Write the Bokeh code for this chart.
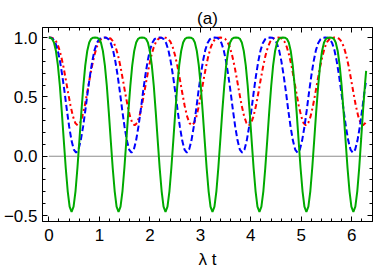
from bokeh.plotting import figure
from bokeh.models import LinearAxis, SingleIntervalTicker, Range1d, CustomJSTickFormatter
from bokeh.embed import file_html
from bokeh.resources import INLINE

# ---- data ----
green_t = [0.000, 0.024, 0.063, 0.101, 0.140, 0.179, 0.218, 0.256, 0.295, 0.334, 0.373, 0.411,
           0.450, 0.489, 0.528, 0.566, 0.605, 0.644, 0.683, 0.721, 0.760, 0.799, 0.838, 0.876,
           0.915, 0.954, 0.993, 1.031, 1.070, 1.109, 1.148, 1.186, 1.225, 1.264, 1.303, 1.341,
           1.380, 1.419, 1.458, 1.496, 1.535, 1.574, 1.613, 1.651, 1.690, 1.729, 1.768, 1.806,
           1.845, 1.884, 1.923, 1.961, 2.000, 2.039, 2.078, 2.116, 2.155, 2.194, 2.233, 2.271,
           2.310, 2.349, 2.388, 2.426, 2.465, 2.504, 2.543, 2.581, 2.620, 2.659, 2.698, 2.736,
           2.775, 2.814, 2.853, 2.891, 2.930, 2.969, 3.008, 3.046, 3.085, 3.124, 3.163, 3.201,
           3.240, 3.279, 3.318, 3.356, 3.395, 3.434, 3.473, 3.511, 3.550, 3.589, 3.628, 3.666,
           3.705, 3.744, 3.783, 3.821, 3.860, 3.899, 3.938, 3.976, 4.015, 4.054, 4.093, 4.131,
           4.170, 4.209, 4.248, 4.286, 4.325, 4.364, 4.403, 4.441, 4.480, 4.519, 4.558, 4.596,
           4.635, 4.674, 4.713, 4.751, 4.790, 4.829, 4.868, 4.906, 4.945, 4.984, 5.023, 5.061,
           5.100, 5.139, 5.178, 5.216, 5.255, 5.294, 5.333, 5.371, 5.410, 5.449, 5.488, 5.526,
           5.565, 5.604, 5.643, 5.681, 5.720, 5.759, 5.798, 5.836, 5.875, 5.914, 5.953, 5.991,
           6.030, 6.069, 6.108, 6.146, 6.185, 6.224, 6.263, 6.283]
green_y = [1.000, 0.999, 0.990, 0.958, 0.887, 0.766, 0.592, 0.376, 0.137, -0.097, -0.293, -0.424,
           -0.470, -0.424, -0.293, -0.097, 0.137, 0.376, 0.592, 0.766, 0.887, 0.958, 0.990, 0.999,
           1.000, 0.999, 0.990, 0.958, 0.887, 0.766, 0.592, 0.376, 0.137, -0.097, -0.293, -0.424,
           -0.470, -0.424, -0.293, -0.097, 0.137, 0.376, 0.592, 0.766, 0.887, 0.958, 0.990, 0.999,
           1.000, 0.999, 0.990, 0.958, 0.887, 0.766, 0.592, 0.376, 0.137, -0.097, -0.293, -0.424,
           -0.470, -0.424, -0.293, -0.097, 0.137, 0.376, 0.592, 0.766, 0.887, 0.958, 0.990, 0.999,
           1.000, 0.999, 0.990, 0.958, 0.887, 0.766, 0.592, 0.376, 0.137, -0.097, -0.293, -0.424,
           -0.470, -0.424, -0.293, -0.097, 0.137, 0.376, 0.592, 0.766, 0.887, 0.958, 0.990, 0.999,
           1.000, 0.999, 0.990, 0.958, 0.887, 0.766, 0.592, 0.376, 0.137, -0.097, -0.293, -0.424,
           -0.470, -0.424, -0.293, -0.097, 0.137, 0.376, 0.592, 0.766, 0.887, 0.958, 0.990, 0.999,
           1.000, 0.999, 0.990, 0.958, 0.887, 0.766, 0.592, 0.376, 0.137, -0.097, -0.293, -0.424,
           -0.470, -0.424, -0.293, -0.097, 0.137, 0.376, 0.592, 0.766, 0.887, 0.958, 0.990, 0.999,
           1.000, 0.999, 0.990, 0.958, 0.887, 0.766, 0.592, 0.376, 0.137, -0.097, -0.293, -0.424,
           -0.470, -0.424, -0.293, -0.097, 0.150, 0.400, 0.620, 0.720]

blue_t = [0.000, 0.038, 0.083, 0.129, 0.175, 0.220, 0.266, 0.312, 0.357, 0.403, 0.449, 0.494,
          0.540, 0.586, 0.631, 0.677, 0.723, 0.768, 0.814, 0.860, 0.905, 0.951, 0.997, 1.042,
          1.088, 1.134, 1.179, 1.225, 1.271, 1.316, 1.362, 1.408, 1.453, 1.499, 1.545, 1.590,
          1.636, 1.682, 1.727, 1.773, 1.819, 1.864, 1.910, 1.956, 2.001, 2.047, 2.093, 2.138,
          2.184, 2.230, 2.275, 2.321, 2.367, 2.412, 2.458, 2.504, 2.549, 2.595, 2.641, 2.686,
          2.732, 2.778, 2.823, 2.869, 2.915, 2.960, 3.006, 3.052, 3.097, 3.143, 3.189, 3.234,
          3.280, 3.326, 3.371, 3.417, 3.463, 3.508, 3.554, 3.600, 3.645, 3.691, 3.737, 3.782,
          3.828, 3.874, 3.919, 3.965, 4.011, 4.056, 4.102, 4.148, 4.193, 4.239, 4.285, 4.330,
          4.376, 4.422, 4.467, 4.513, 4.559, 4.604, 4.650, 4.696, 4.741, 4.787, 4.833, 4.878,
          4.924, 4.970, 5.015, 5.061, 5.107, 5.152, 5.198, 5.244, 5.289, 5.335, 5.381, 5.426,
          5.472, 5.518, 5.563, 5.609, 5.655, 5.700, 5.746, 5.792, 5.837, 5.883, 5.929, 5.974,
          6.020, 6.066, 6.111, 6.157, 6.203, 6.248, 6.283]
blue_y = [1.000, 0.999, 0.987, 0.955, 0.894, 0.802, 0.680, 0.538, 0.388, 0.247, 0.132, 0.056,
          0.030, 0.056, 0.132, 0.247, 0.388, 0.538, 0.680, 0.802, 0.894, 0.955, 0.987, 0.999,
          1.000, 0.999, 0.987, 0.955, 0.894, 0.802, 0.680, 0.538, 0.388, 0.247, 0.132, 0.056,
          0.030, 0.056, 0.132, 0.247, 0.388, 0.538, 0.680, 0.802, 0.894, 0.955, 0.987, 0.999,
          1.000, 0.999, 0.987, 0.955, 0.894, 0.802, 0.680, 0.538, 0.388, 0.247, 0.132, 0.056,
          0.030, 0.056, 0.132, 0.247, 0.388, 0.538, 0.680, 0.802, 0.894, 0.955, 0.987, 0.999,
          1.000, 0.999, 0.987, 0.955, 0.894, 0.802, 0.680, 0.538, 0.388, 0.247, 0.132, 0.056,
          0.030, 0.056, 0.132, 0.247, 0.388, 0.538, 0.680, 0.802, 0.894, 0.955, 0.987, 0.999,
          1.000, 0.999, 0.987, 0.955, 0.894, 0.802, 0.680, 0.538, 0.388, 0.247, 0.132, 0.056,
          0.030, 0.056, 0.132, 0.247, 0.388, 0.538, 0.680, 0.802, 0.894, 0.955, 0.987, 0.999,
          1.000, 0.999, 0.987, 0.955, 0.894, 0.802, 0.680, 0.538, 0.388, 0.247, 0.132, 0.056,
          0.030, 0.056, 0.132, 0.247, 0.388, 0.538, 0.640]

red_t = [0.000, 0.052, 0.099, 0.146, 0.193, 0.240, 0.288, 0.335, 0.382, 0.429, 0.476, 0.523,
         0.570, 0.617, 0.664, 0.711, 0.758, 0.805, 0.853, 0.900, 0.947, 0.994, 1.041, 1.088,
         1.135, 1.182, 1.229, 1.276, 1.323, 1.370, 1.418, 1.465, 1.512, 1.559, 1.606, 1.653,
         1.700, 1.747, 1.794, 1.841, 1.888, 1.935, 1.983, 2.030, 2.077, 2.124, 2.171, 2.218,
         2.265, 2.312, 2.359, 2.406, 2.453, 2.500, 2.548, 2.595, 2.642, 2.689, 2.736, 2.783,
         2.830, 2.877, 2.924, 2.971, 3.018, 3.065, 3.113, 3.160, 3.207, 3.254, 3.301, 3.348,
         3.395, 3.442, 3.489, 3.536, 3.583, 3.630, 3.678, 3.725, 3.772, 3.819, 3.866, 3.913,
         3.960, 4.007, 4.054, 4.101, 4.148, 4.195, 4.243, 4.290, 4.337, 4.384, 4.431, 4.478,
         4.525, 4.572, 4.619, 4.666, 4.713, 4.760, 4.808, 4.855, 4.902, 4.949, 4.996, 5.043,
         5.090, 5.137, 5.184, 5.231, 5.278, 5.325, 5.373, 5.420, 5.467, 5.514, 5.561, 5.608,
         5.655, 5.702, 5.749, 5.796, 5.843, 5.890, 5.938, 5.985, 6.032, 6.079, 6.126, 6.173,
         6.220, 6.267, 6.283]
red_y = [1.000, 0.999, 0.990, 0.966, 0.919, 0.849, 0.756, 0.647, 0.533, 0.426, 0.338, 0.280,
         0.260, 0.280, 0.338, 0.426, 0.533, 0.647, 0.756, 0.849, 0.919, 0.966, 0.990, 0.999,
         1.000, 0.999, 0.990, 0.966, 0.919, 0.849, 0.756, 0.647, 0.533, 0.426, 0.338, 0.280,
         0.260, 0.280, 0.338, 0.426, 0.533, 0.647, 0.756, 0.849, 0.919, 0.966, 0.990, 0.999,
         1.000, 0.999, 0.990, 0.966, 0.919, 0.849, 0.756, 0.647, 0.533, 0.426, 0.338, 0.280,
         0.260, 0.280, 0.338, 0.426, 0.533, 0.647, 0.756, 0.849, 0.919, 0.966, 0.990, 0.999,
         1.000, 0.999, 0.990, 0.966, 0.919, 0.849, 0.756, 0.647, 0.533, 0.426, 0.338, 0.280,
         0.260, 0.280, 0.338, 0.426, 0.533, 0.647, 0.756, 0.849, 0.919, 0.966, 0.990, 0.999,
         1.000, 0.999, 0.990, 0.966, 0.919, 0.849, 0.756, 0.647, 0.533, 0.426, 0.338, 0.280,
         0.260, 0.280, 0.338, 0.426, 0.533, 0.647, 0.756, 0.849, 0.919, 0.966, 0.990, 0.999,
         1.000, 0.999, 0.990, 0.966, 0.919, 0.849, 0.756, 0.647, 0.533, 0.426, 0.338, 0.280,
         0.260, 0.280, 0.290]

zero_line_t = [0.0, 6.283]
zero_line_y = [0.0, 0.0]

y_ticks = [-0.5, 0.0, 0.5, 1.0]
y_tick_labels = ["\u22120.5", "0.0", "0.5", "1.0"]

x_range = (-0.126, 6.409)
y_range = (-0.55, 1.085)
title_text = "(a)"
x_label = "\u03bb t"

FONT = "Liberation Sans"
FS = "17px"

p = figure(width=374, height=273, output_backend="svg", toolbar_location=None,
           x_range=Range1d(*x_range), y_range=Range1d(*y_range),
           min_border_left=42, min_border_right=2, min_border_top=27, min_border_bottom=52)

p.title.text = title_text
p.title.align = "center"
p.title.text_font = FONT
p.title.text_font_size = FS
p.title.text_font_style = "normal"
p.title.text_color = "black"
p.title.standoff = 0

p.xgrid.visible = False
p.ygrid.visible = False
p.outline_line_color = "black"
p.background_fill_color = "white"
p.border_fill_color = "white"

p.add_layout(LinearAxis(), "right")
p.add_layout(LinearAxis(), "above")

for ax in p.xaxis:
    ax.ticker = SingleIntervalTicker(interval=1, num_minor_ticks=5)
for ax in p.yaxis:
    ax.ticker = SingleIntervalTicker(interval=0.5, num_minor_ticks=5)

for ax in p.xaxis + p.yaxis:
    ax.axis_line_color = "black"
    ax.axis_line_width = 1
    ax.major_tick_in = 5
    ax.major_tick_out = 0
    ax.minor_tick_in = 3
    ax.minor_tick_out = 0
    ax.major_tick_line_color = "black"
    ax.minor_tick_line_color = "black"
    ax.major_label_text_font = FONT
    ax.major_label_text_font_size = FS
    ax.major_label_text_color = "black"

for ax in (p.right[0], p.above[0]):
    ax.formatter = CustomJSTickFormatter(code="return ''")
    ax.major_label_text_font_size = "1px"
    ax.major_label_standoff = 0

p.left[0].major_label_overrides = dict(zip(y_ticks, y_tick_labels))
p.below[0].major_label_standoff = 7
p.left[0].major_label_standoff = 5
p.below[0].axis_label = x_label
p.below[0].axis_label_text_font = FONT
p.below[0].axis_label_text_font_size = FS
p.below[0].axis_label_text_font_style = "normal"
p.below[0].axis_label_text_color = "black"
p.below[0].axis_label_standoff = 6

p.line(zero_line_t, zero_line_y, line_color="#8c8c8c", line_width=1)
p.line(red_t, red_y, line_color="#ff0000", line_width=2, line_dash="5 3 2 3")
p.line(blue_t, blue_y, line_color="#0000ff", line_width=2, line_dash="6 3")
p.line(green_t, green_y, line_color="#00aa00", line_width=2)

open("out.html", "w").write(file_html(p, INLINE))
